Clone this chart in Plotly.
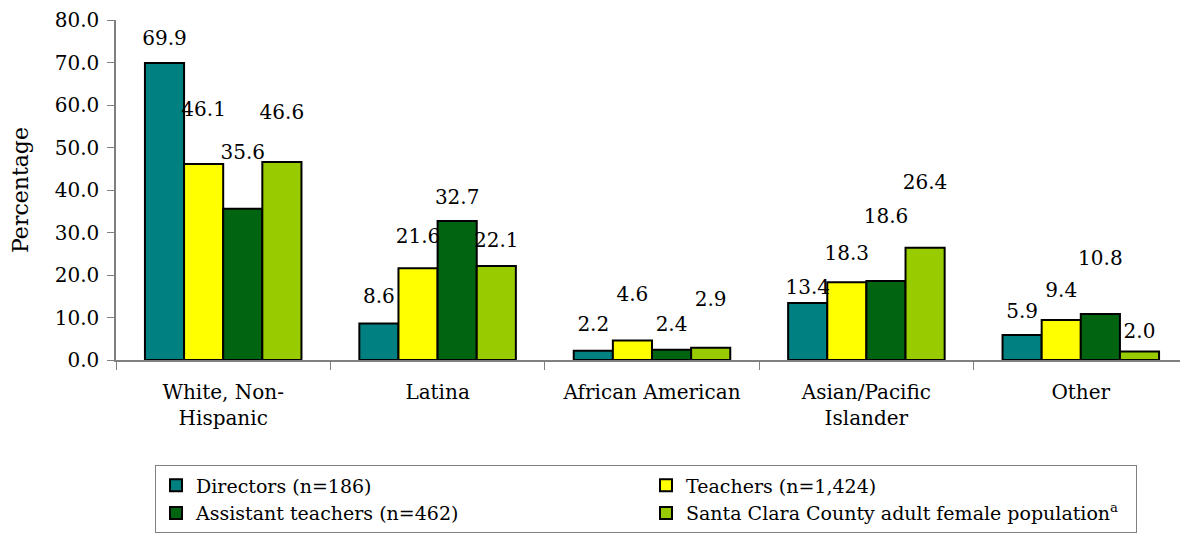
import plotly.graph_objects as go

categories = ["White, Non-<br>Hispanic", "Latina", "African American",
              "Asian/Pacific<br>Islander", "Other"]
series_names = ["Directors (n=186)", "Teachers (n=1,424)",
                "Assistant teachers (n=462)",
                "Santa Clara County adult female population<sup>a</sup>"]
directors = [69.9, 8.6, 2.2, 13.4, 5.9]
teachers = [46.1, 21.6, 4.6, 18.3, 9.4]
assistants = [35.6, 32.7, 2.4, 18.6, 10.8]
county = [46.6, 22.1, 2.9, 26.4, 2.0]
y_ticks = [0, 10, 20, 30, 40, 50, 60, 70, 80]

# vertical lift of each data label above its bar (in axis units), as placed in the original
label_lift = [
    [5.4, 5.9, 5.8, 3.2, 5.1],
    [12.4, 7.2, 10.4, 6.3, 6.5],
    [12.8, 5.2, 5.6, 14.9, 12.8],
    [11.2, 5.7, 10.9, 15.0, 4.3],
]

colors = ["#008080", "#FFFF00", "#006411", "#99CC00"]
FONT = "DejaVu Serif"

fig = go.Figure()
all_series = [directors, teachers, assistants, county]
for i, (name, vals, col) in enumerate(zip(series_names, all_series, colors)):
    fig.add_trace(go.Bar(
        x=categories, y=vals, name=name, offsetgroup=str(i),
        marker=dict(color=col, line=dict(color="black", width=2)),
    ))
for i, (vals, lifts) in enumerate(zip(all_series, label_lift)):
    fig.add_trace(go.Scatter(
        x=categories, y=[v + l for v, l in zip(vals, lifts)],
        text=[f"{v:.1f}" for v in vals], mode="text", offsetgroup=str(i),
        textposition="middle center", showlegend=False, cliponaxis=False,
        textfont=dict(family=FONT, size=20, color="black"), hoverinfo="skip",
    ))

fig.update_layout(
    width=1180, height=528,
    margin=dict(l=108, r=0, t=12, b=176, autoexpand=False),
    paper_bgcolor="white", plot_bgcolor="white",
    barmode="group", bargap=0.27, bargroupgap=0,
    scattermode="group", scattergap=0.27,
    font=dict(family=FONT, size=20, color="black"),
    legend=dict(
        orientation="h", x=0.0364, y=-0.31, xanchor="left", yanchor="top",
        entrywidth=445, entrywidthmode="pixels", itemwidth=30,
        bordercolor="#808080", borderwidth=1, bgcolor="white",
        font=dict(family=FONT, size=19, color="black"),
    ),
    xaxis=dict(
        showline=True, linecolor="#808080", linewidth=1.5,
        ticks="outside", tickson="boundaries", ticklen=8, tickcolor="#808080",
        ticklabelstandoff=13, showgrid=False, ticklabeloverflow="allow",
        tickfont=dict(family=FONT, size=20, color="black"),
    ),
    yaxis=dict(
        range=[0, 80], tickvals=y_ticks, tickformat=".1f",
        showline=True, linecolor="#808080", linewidth=1.5,
        ticks="outside", ticklen=7, tickcolor="#808080",
        ticklabelstandoff=4, showgrid=False, zeroline=False,
        ticklabeloverflow="allow",
        tickfont=dict(family=FONT, size=20, color="black"),
        title=dict(text="Percentage", font=dict(family=FONT, size=22), standoff=21),
    ),
)

fig.write_html("out.html")
